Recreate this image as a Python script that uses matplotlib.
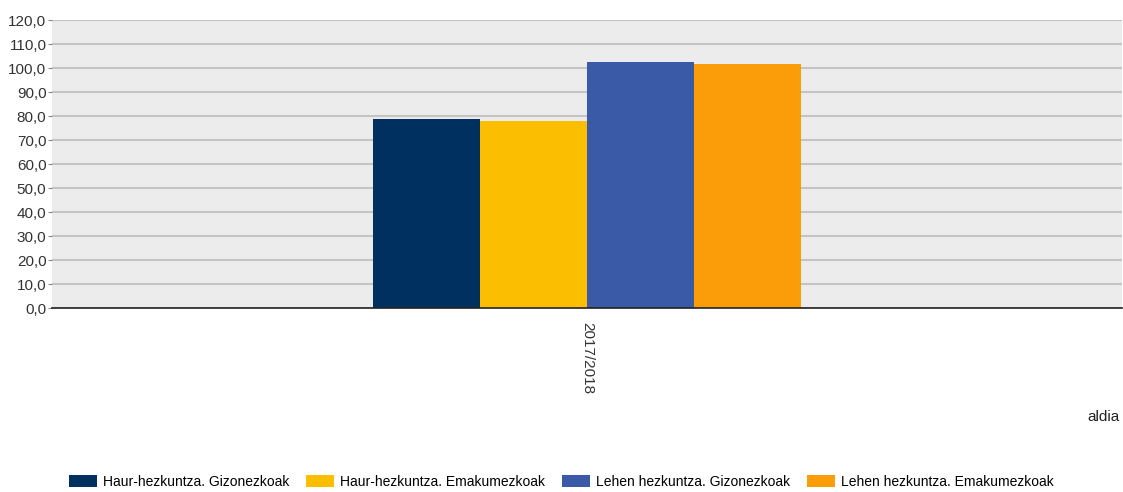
import matplotlib.pyplot as plt
import numpy as np
from matplotlib.patches import Patch

plt.rcParams['font.family'] = ['Liberation Sans', 'DejaVu Sans']

# data
periods = ['2017/2018']
series = ['Haur-hezkuntza. Gizonezkoak', 'Haur-hezkuntza. Emakumezkoak',
          'Lehen hezkuntza. Gizonezkoak', 'Lehen hezkuntza. Emakumezkoak']
values = [78.8, 77.8, 102.3, 101.7]
colors = ['#003060', '#fcbe00', '#3a59a6', '#fa9d08']
yticks = np.arange(0, 121, 10)

fig = plt.figure(figsize=(11.23, 4.92), dpi=100)
ax = fig.add_axes([52 / 1123, 1 - 308 / 492, 1070 / 1123, 288 / 492])
ax.set_facecolor('#ececec')

width = 0.1
x = np.arange(len(periods))
for i, (name, val, col) in enumerate(zip(series, values, colors)):
    ax.bar(x + (i - 1.5) * width, [val], width, color=col, label=name, zorder=3)

ax.set_xlim(-0.5, 0.5)
ax.set_ylim(0, 120)
ax.set_yticks(yticks)
ax.set_yticklabels([f'{v:.1f}'.replace('.', ',') for v in yticks],
                   fontsize=11, color='#333333')
ax.set_xticks(x)
ax.set_xticklabels(periods, rotation=-90, fontsize=11, color='#333333')
ax.tick_params(axis='y', length=3, color='#888888', pad=1)
ax.tick_params(axis='x', length=0, pad=10)
ax.grid(axis='y', color='#c4c4c4', linewidth=1.5, zorder=0)
for s in ['top', 'right', 'left']:
    ax.spines[s].set_visible(False)
ax.spines['bottom'].set_color('#222222')
ax.spines['bottom'].set_linewidth(1.2)
ax.spines['bottom'].set_zorder(4)

fig.text(1120 / 1123, 1 - 417 / 492, 'aldia', ha='right', va='center',
         fontsize=11, color='#222222')

handles = [Patch(facecolor=c) for c in colors]
fig.legend(handles, series, loc='center', bbox_to_anchor=(0.5, 1 - 482 / 492),
           ncol=4, frameon=False, fontsize=10, handlelength=2.0, handleheight=1.0,
           handletextpad=0.45, columnspacing=1.2, borderpad=0.1)

fig.savefig('out.png', dpi=100)
